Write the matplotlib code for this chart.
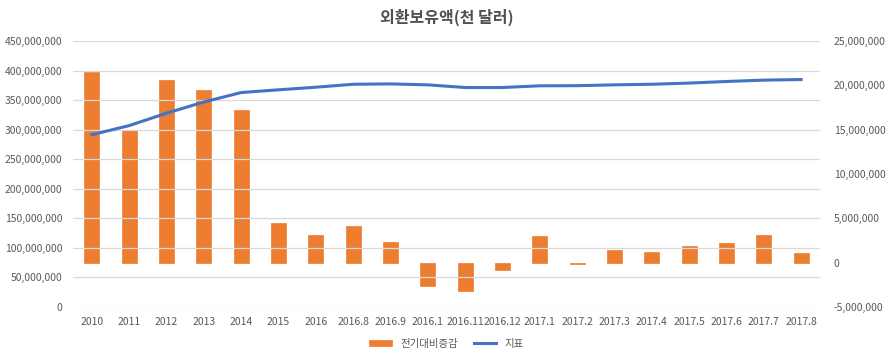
import matplotlib
matplotlib.use("Agg")
import matplotlib.pyplot as plt
from matplotlib.ticker import FuncFormatter
import numpy as np

plt.rcParams['font.family'] = ['Noto Sans CJK KR', 'DejaVu Sans']

categories = ["2010", "2011", "2012", "2013", "2014", "2015", "2016", "2016.8", "2016.9",
              "2016.1", "2016.11", "2016.12", "2017.1", "2017.2", "2017.3", "2017.4",
              "2017.5", "2017.6", "2017.7", "2017.8"]
change_vals = [21570000, 14940000, 20590000, 19540000, 17200000, 4440000, 3120000, 4070000,
               2370000, -2640000, -3170000, -870000, 2970000, -150000, 1420000, 1240000,
               1880000, 2180000, 3120000, 1050000]
index_vals = [291500000, 307000000, 328000000, 347000000, 363000000, 367600000, 372000000,
              377000000, 377600000, 376000000, 371500000, 371500000, 374400000, 374600000,
              376000000, 377000000, 379000000, 381700000, 384000000, 385000000]

TXT = "#595959"
fig = plt.figure(figsize=(8.93, 3.58), dpi=100)
ax = fig.add_axes([0.082, 0.143, 0.836, 0.742])
ax2 = ax.twinx()
x = np.arange(len(categories))

bars = ax2.bar(x, change_vals, width=0.4, color="#ED7D31", edgecolor="#ED7D31", lw=0.5,
               label="전기대비증감", zorder=2)
line, = ax.plot(x, index_vals, color="#4472C4", lw=2.2, label="지표", zorder=3)

ax.set_zorder(ax2.get_zorder() + 1)
ax.patch.set_visible(False)

ax.set_ylim(0, 450000000)
ax.set_yticks(np.arange(0, 450000001, 50000000))
ax2.set_ylim(-5000000, 25000000)
ax2.set_yticks(np.arange(-5000000, 25000001, 5000000))
ax.set_xlim(-0.5, len(categories) - 0.5)
ax.set_xticks(x)
ax.set_xticklabels(categories)

fmt = FuncFormatter(lambda v, p: f"{int(round(v)):,}")
ax.yaxis.set_major_formatter(fmt)
ax2.yaxis.set_major_formatter(fmt)

ax.grid(axis='y', color="#D9D9D9", lw=0.9)
ax.set_axisbelow(True)
for a in (ax, ax2):
    for s in a.spines.values():
        s.set_visible(False)
    a.tick_params(length=0, labelsize=7.5, colors=TXT)
ax.tick_params(axis='y', pad=8)
ax2.tick_params(axis='y', pad=10)
ax.tick_params(axis='x', pad=7)

fig.suptitle("외환보유액(천 달러)", x=0.5, y=0.975, fontsize=11.5, fontweight='bold',
             color="#505050")
fig.legend([bars, line], ["전기대비증감", "지표"], loc='center', bbox_to_anchor=(0.5, 0.04),
           ncol=2, frameon=False, fontsize=7.5, labelcolor=TXT, handlelength=2.2,
           handleheight=0.5, columnspacing=1.5)

fig.savefig("out.png", dpi=100)
